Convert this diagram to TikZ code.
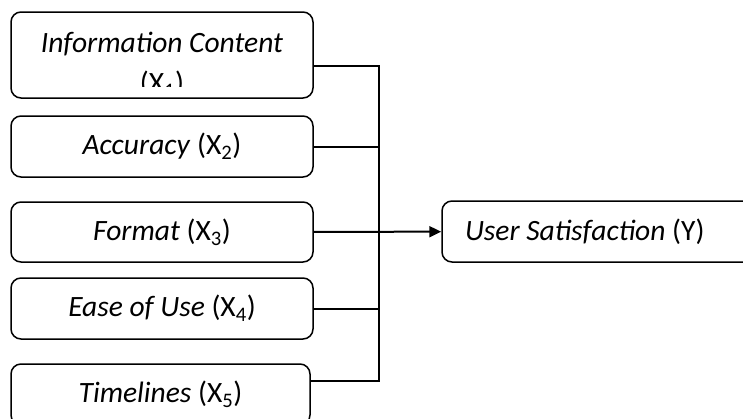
\documentclass[tikz,border=0pt]{standalone}
\usepackage{fontspec}
\setmainfont{Carlito}
\usetikzlibrary{arrows.meta}

\begin{document}
\begin{tikzpicture}[x=1pt,y=-1pt,
  var/.style={draw, line width=1.5pt, rounded corners=10pt, minimum width=302pt, align=center, inner sep=0pt, font=\fontsize{29.5}{36}\selectfont},
  link/.style={line width=2pt}]
\clip (0,0) rectangle (743,418);
\fill[white] (0,0) rectangle (743,418);
\node[var, minimum height=86pt] (X1) at (162,55) {};
\begin{scope}
\clip (X1.north west) rectangle (X1.east |- 0,86);
\node[align=center, inner sep=0pt, font=\fontsize{29.5}{40}\selectfont] (X1text) at (162,65) {\textit{Information Content}\\(X\textsubscript{1})};
\end{scope}
\node[var, minimum height=61pt] (X2) at (162,146.5) {\textit{Accuracy} (X\textsubscript{2})};
\node[var, minimum height=60pt] (X3) at (162,232) {\textit{Format} (X\textsubscript{3})};
\node[var, minimum height=61pt] (X4) at (162,308.5) {\textit{Ease of Use} (X\textsubscript{4})};
\node[var, minimum height=61pt, minimum width=299pt] (X5) at (160.5,394.5) {\textit{Timelines} (X\textsubscript{5})};
\node[var, minimum height=61pt, text width=300pt, align=flush left, inner xsep=23pt] (Y) at (615,231.5) {\textit{User Satisfaction} (Y)};
\coordinate (top) at (379,66);
\coordinate (bot) at (379,381);
\draw[link] (X1.east |- top) -- (top) -- (bot) -- (X5.east |- bot);
\draw[link] (X2) -- (X2 -| top);
\draw[link] (X4) -- (X4 -| top);
\draw[link, -{Triangle[length=12pt,width=11pt]}] (X3) -- (Y);
\end{tikzpicture}
\end{document}
